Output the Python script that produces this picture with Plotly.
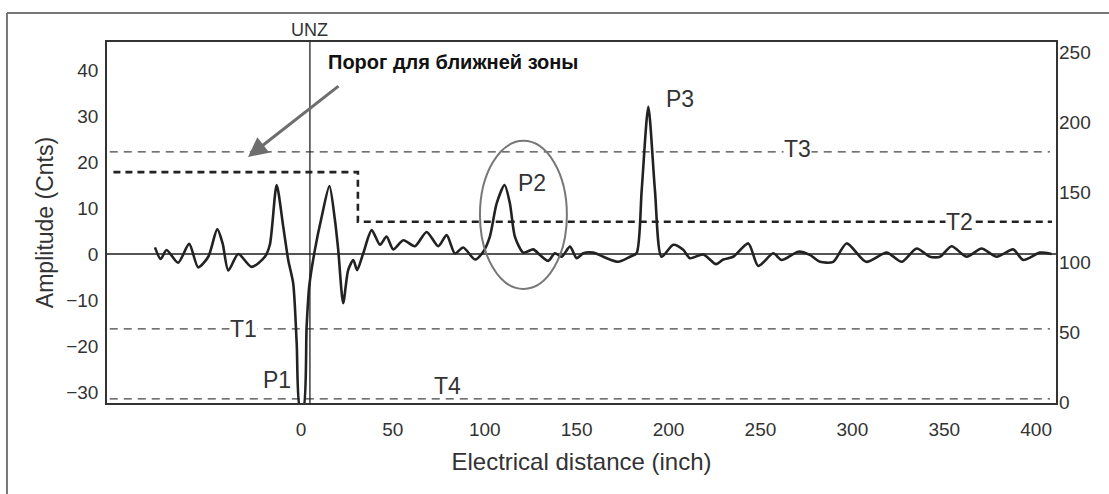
import plotly.graph_objects as go

# ---- data ----
distance = [-79.4, -76.3, -73.1, -66.8, -60.8, -55.9, -50.4, -45.5, -42.6, -39.5,
            -34.1, -26.8, -19.6, -16.9, -13.2, -9.6, -6.9, -4.2, -2.3, -0.5,
            1.3, 3.1, 4.5, 7.6, 11.3, 15.5, 18.5, 20.3, 23.0, 25.7,
            28.5, 30.6, 33.9, 38.5, 43.0, 46.6, 50.2, 55.7, 62.0, 68.4,
            74.7, 79.3, 83.8, 88.3, 94.7, 99.2, 102.8, 106.5, 110.8, 113.7,
            116.4, 121.0, 126.4, 130.0, 134.5, 138.2, 141.8, 146.4, 150.0, 153.6,
            159.0, 164.5, 172.6, 179.0, 182.6, 185.4, 189.0, 192.6, 196.2, 202.6,
            208.0, 211.6, 218.9, 225.8, 229.8, 235.2, 243.4, 248.8, 257.0, 261.5,
            270.6, 276.9, 282.4, 289.6, 296.9, 307.5, 318.7, 326.8, 335.0, 342.2,
            347.7, 354.0, 362.2, 370.3, 378.5, 387.5, 393.0, 402.1, 408.4]
amplitude = [1.45, -1.1, 0.87, -1.9, 2.2, -2.9, -0.6, 5.4, 2.3, -3.6,
             0.0, -2.8, -0.6, 2.0, 15.0, 5.9, -1.3, -6.4, -19.4, -33.5,
             -33.5, -15.8, -7.1, 0.9, 8.1, 14.8, 7.4, 0.9, -10.7, -3.5,
             -1.3, -3.5, 0.15, 5.2, 2.0, 3.8, 1.0, 3.0, 1.7, 4.8,
             1.7, 4.1, 0.1, 1.4, -1.2, 0.5, 3.8, 11.0, 15.0, 11.0,
             3.8, 0.3, 1.0, -0.2, -1.5, 0.15, -0.6, 1.6, -0.9, 0.15,
             0.3, -0.6, -1.7, -0.6, 0.15, 13.9, 32.0, 13.9, -0.6, 2.0,
             0.9, -0.9, -0.1, -2.2, -1.2, -0.6, 2.3, -2.6, 0.15, -1.3,
             0.5, -0.2, -1.7, -1.7, 2.3, -1.7, 0.3, -1.7, 1.2, -0.6,
             -0.6, 1.7, -0.6, 1.2, -0.6, 1.0, -1.3, 0.3, 0.0]

# thresholds (amplitude units)
thin_names = ["T1", "T3", "T4"]
thin_levels = [-16.3, 22.2, -31.5]
near_zone_x = [-102, 31, 31, 408.6]
near_zone_y = [17.8, 17.8, 7.0, 7.0]
unz_position = 4.9

left_ticks = [-30, -20, -10, 0, 10, 20, 30, 40]
right_ticks = [0, 50, 100, 150, 200, 250]
x_ticks = [0, 50, 100, 150, 200, 250, 300, 350, 400]

X_RANGE = [-105.5, 410.8]
Y_RANGE = [-32.4, 46.1]
Y2_RANGE = [-0.7, 257.1]

FONT = "Liberation Sans, Arial, sans-serif"

fig = go.Figure()

# thin dashed thresholds
for lvl in thin_levels:
    fig.add_trace(go.Scatter(x=[X_RANGE[0] + 1.5, 407.5], y=[lvl, lvl], mode="lines",
                             line=dict(color="#444444", width=1.3, dash="8px,6px"),
                             hoverinfo="skip", showlegend=False))

# near-zone threshold + T2
fig.add_trace(go.Scatter(x=near_zone_x, y=near_zone_y, mode="lines",
                         line=dict(color="#222222", width=2.6, dash="7px,5px"),
                         hoverinfo="skip", showlegend=False))

# UNZ line
fig.add_trace(go.Scatter(x=[unz_position, unz_position], y=[Y_RANGE[0], Y_RANGE[1]], mode="lines",
                         line=dict(color="#222222", width=1.3),
                         hoverinfo="skip", showlegend=False))

# signal
fig.add_trace(go.Scatter(x=distance, y=amplitude, mode="lines",
                         line=dict(color="#222222", width=2.6, shape="spline", smoothing=0.7),
                         hoverinfo="skip", showlegend=False))

# invisible trace on right axis
fig.add_trace(go.Scatter(x=[0], y=[100], yaxis="y2", mode="markers",
                         marker=dict(opacity=0), hoverinfo="skip", showlegend=False))

ann = []
lab_font = dict(family=FONT, size=23, color="#333333")
# threshold labels
ann.append(dict(x=-31, y=-16.3, text="T1", showarrow=False, font=lab_font, bgcolor="white",
                xref="x", yref="y", borderpad=0))
ann.append(dict(x=358.5, y=7.0, text="T2", showarrow=False, font=lab_font, bgcolor="white",
                xref="x", yref="y", borderpad=0))
ann.append(dict(x=270, y=22.2, text="T3", showarrow=False, font=lab_font, bgcolor="white",
                xref="x", yref="y", borderpad=0, yshift=3))
ann.append(dict(x=80, y=-28.7, text="T4", showarrow=False, font=lab_font, xref="x", yref="y"))
ann.append(dict(x=-13, y=-27.4, text="P1", showarrow=False, font=lab_font, xref="x", yref="y"))
ann.append(dict(x=125.7, y=15.4, text="P2", showarrow=False, font=lab_font, xref="x", yref="y"))
ann.append(dict(x=206, y=33.7, text="P3", showarrow=False, font=lab_font, xref="x", yref="y"))
ann.append(dict(x=unz_position, y=1.0, yshift=12, text="UNZ", showarrow=False, xref="x", yref="paper",
                yanchor="middle", font=dict(family=FONT, size=18, color="#333333")))
ann.append(dict(x=13.6, y=41.7, text="<b>Порог для ближней зоны</b>", showarrow=False,
                xanchor="left", xref="x", yref="y",
                font=dict(family=FONT, size=20, color="#111111")))
# arrow
ann.append(dict(x=-28.8, y=21.1, ax=92, ay=-72, text="", showarrow=True, xref="x", yref="y",
                arrowhead=2, arrowsize=1.3, arrowwidth=3, arrowcolor="#6e6e6e"))

shapes = [
    dict(type="circle", xref="x", yref="y", x0=97.4, x1=144.7, y0=-7.6, y1=24.6,
         line=dict(color="#777777", width=2)),
    dict(type="line", xref="paper", yref="paper", x0=-0.1054, x1=-0.1054, y0=-0.3, y1=1.0803,
         line=dict(color="#777777", width=2)),
    dict(type="line", xref="paper", yref="paper", x0=-0.1054, x1=1.07, y0=1.0803, y1=1.0803,
         line=dict(color="#777777", width=2)),
]

fig.update_layout(
    width=1109, height=494,
    margin=dict(l=107, r=53, t=42, b=91),
    paper_bgcolor="white", plot_bgcolor="white",
    font=dict(family=FONT, color="#333333"),
    annotations=ann, shapes=shapes,
    xaxis=dict(range=X_RANGE, tickvals=x_ticks, showgrid=False, zeroline=False,
               showline=True, mirror=True, linecolor="#333333", linewidth=1.5,
               ticks="", ticklabelstandoff=8, tickfont=dict(size=19, color="#333333"),
               title=dict(text="Electrical distance (inch)", font=dict(size=24, color="#333333"),
                          standoff=15)),
    yaxis=dict(range=Y_RANGE, tickvals=left_ticks, showgrid=False, zeroline=True,
               zerolinecolor="#555555", zerolinewidth=1.5,
               showline=True, mirror=True, linecolor="#333333", linewidth=1.5,
               ticks="", ticklabelstandoff=3, tickfont=dict(size=19, color="#333333"),
               title=dict(text="Amplitude (Cnts)", font=dict(size=23, color="#333333"),
                          standoff=6)),
    yaxis2=dict(range=Y2_RANGE, tickvals=right_ticks, overlaying="y", side="right",
                showgrid=False, zeroline=False, showline=False, ticks="",
                ticklabelstandoff=2, tickfont=dict(size=19, color="#333333")),
)

fig.write_html("out.html", config={"displayModeBar": False},
               post_script="document.body.style.margin='0px';")
